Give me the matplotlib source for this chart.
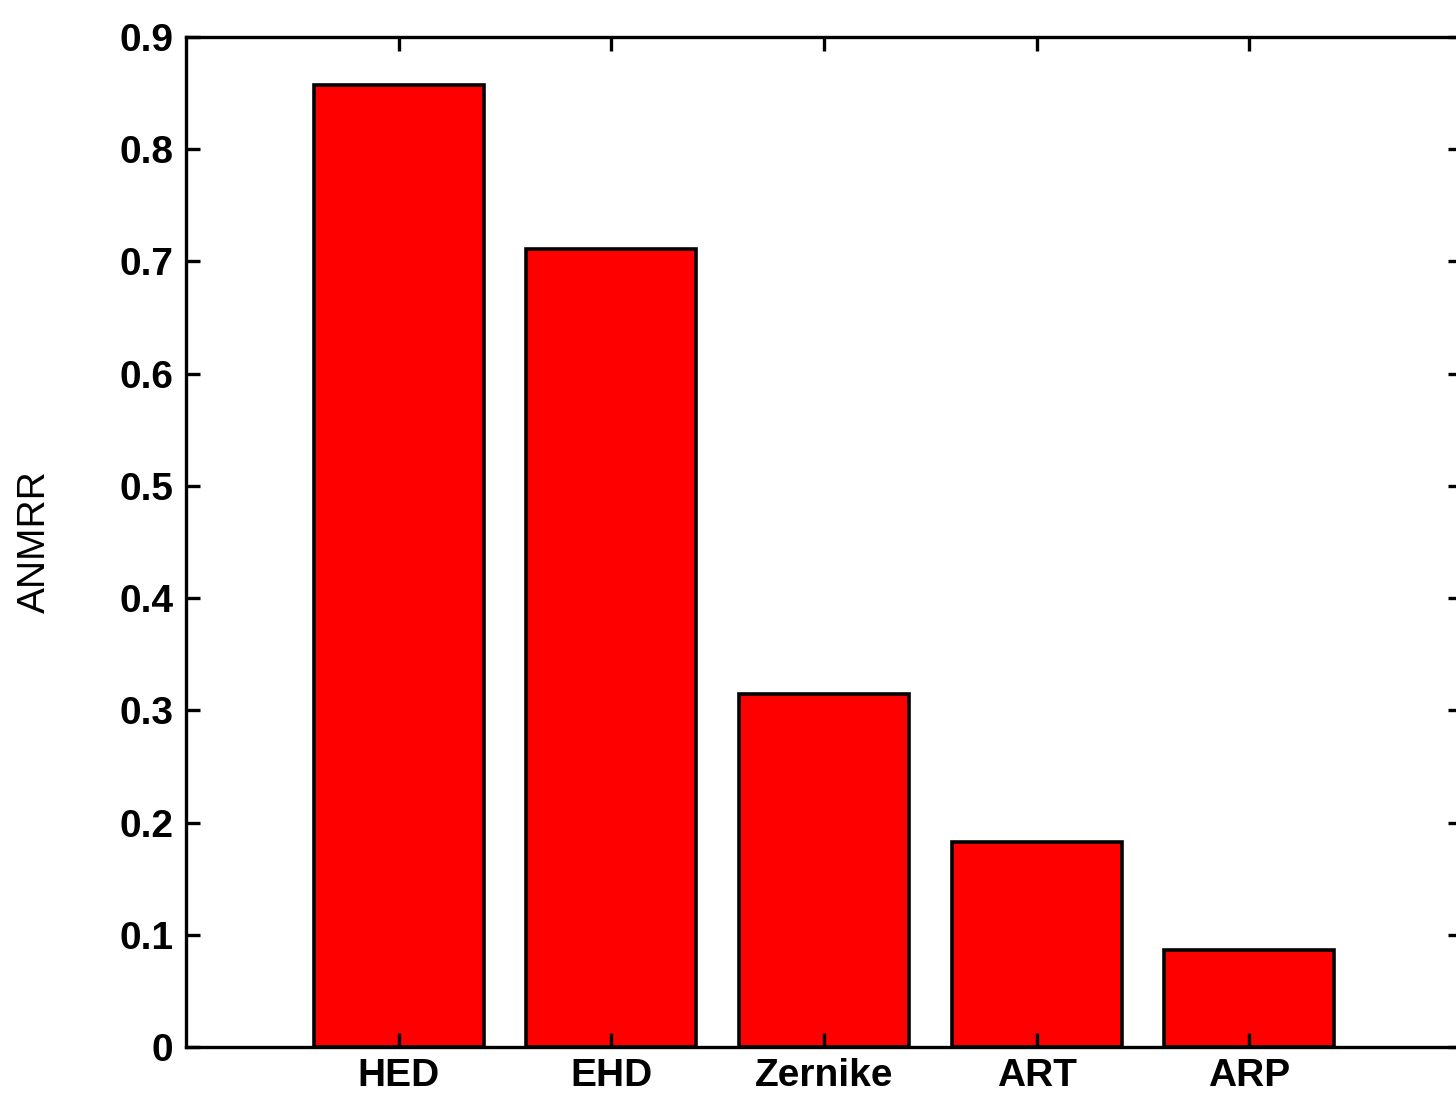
import matplotlib
matplotlib.use('Agg')
import matplotlib.pyplot as plt
import numpy as np

# bar data
methods = ['HED', 'EHD', 'Zernike', 'ART', 'ARP']
anmrr = [0.857, 0.711, 0.315, 0.183, 0.086]
yticks = [0, 0.1, 0.2, 0.3, 0.4, 0.5, 0.6, 0.7, 0.8, 0.9]

plt.rcParams['font.family'] = ['Liberation Sans Narrow', 'Liberation Sans', 'DejaVu Sans']

fig = plt.figure(figsize=(14.56, 10.94), dpi=100)
# axes run a little past the right edge, as in the source picture
ax = fig.add_axes([186 / 1456, 47 / 1094, 1276 / 1456, 1010 / 1094])

x = np.arange(1, len(methods) + 1)
ax.bar(x, anmrr, width=0.8, color='#ff0000', edgecolor='black', linewidth=2.6)

ax.set_xlim(0, len(methods) + 1)
ax.set_ylim(0, 0.9)
ax.set_xticks(x)
ax.set_xticklabels(methods, fontweight='semibold')
ax.set_yticks(yticks)
ax.set_yticklabels(['0' if t == 0 else f'{t:.1f}' for t in yticks], fontweight='semibold')

ax.tick_params(direction='in', length=10, width=2.4, top=True, right=True,
               labelsize=28, pad=9)
ax.tick_params(axis='x', pad=8)
for s in ax.spines.values():
    s.set_linewidth(2.4)

ax.set_ylabel('ANMRR', fontsize=28, labelpad=48)

fig.savefig('out.png', dpi=100)
